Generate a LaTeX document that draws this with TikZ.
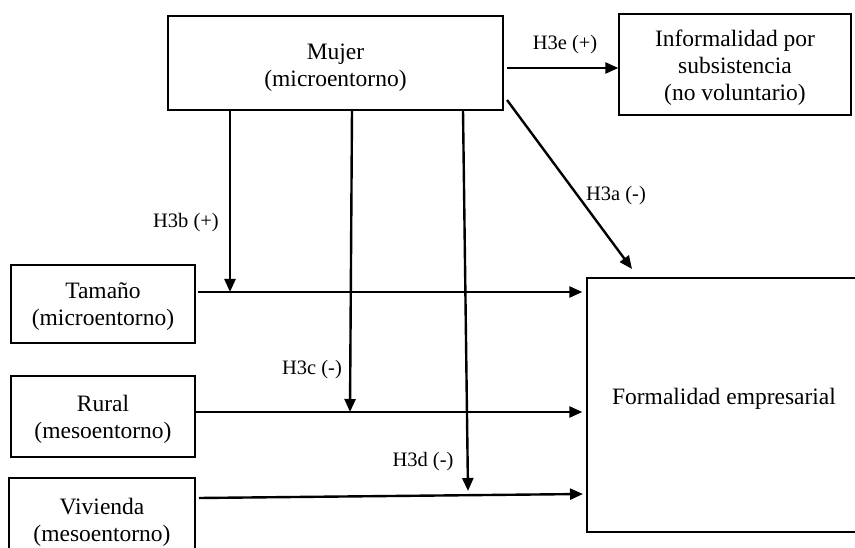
\documentclass[tikz,border=0pt]{standalone}
\usepackage{fontspec}
\setmainfont{Liberation Serif}
\usetikzlibrary{arrows.meta,calc}
\begin{document}
\begin{tikzpicture}[x=1pt,y=-1pt,
  box/.style={draw,line width=1.3pt,inner sep=0pt},
  txt/.style={align=center,inner sep=0pt,font=\fontsize{23.5}{27}\selectfont},
  arr/.style={draw,line width=2.4pt,-{Triangle[length=13pt,width=11pt]}},
  lbl/.style={font=\fontsize{20.5}{24}\selectfont,inner sep=0pt}]
\useasboundingbox (0,0) rectangle (855,548);
\clip (0,0) rectangle (855,548);

% variable boxes
\node[box,minimum width=335pt,minimum height=94pt] (mujer) at (335.5,63) {};
\node[box,minimum width=232pt,minimum height=101pt] (info) at (735,64.5) {};
\node[box,minimum width=184pt,minimum height=78pt] (tam) at (103,304) {};
\node[box,minimum width=184pt,minimum height=81pt] (rural) at (103,416.5) {};
\node[box,minimum width=186pt,minimum height=86pt] (viv) at (102,521) {};
\node[box,minimum width=283pt,minimum height=254pt] (formal) at (728.5,405) {};

% box texts
\node[txt] (mujerT) at ([yshift=-5pt]mujer.center) {Mujer\\(microentorno)};
\node[txt] (infoT) at ([yshift=-3pt]info.center) {Informalidad por\\subsistencia\\(no voluntario)};
\node[txt] (tamT) at ([yshift=-3pt]tam.center) {Tamaño\\(microentorno)};
\node[txt] (ruralT) at ([yshift=-3pt]rural.center) {Rural\\(mesoentorno)};
\node[txt] (vivT) at ([yshift=-1pt]viv.center) {Vivienda\\(mesoentorno)};
\node[txt] (formalT) at (724,399) {Formalidad empresarial};

% anchor points of the connectors
\coordinate (tamS) at (198,292);
\coordinate (rurS) at (195,412);
\coordinate (vivS) at (199,498);
\coordinate (vivE) at (583,494);
\coordinate (bS) at (230,110);
\coordinate (bE) at (230,292);
\coordinate (cS) at (352,110);
\coordinate (cE) at (350,412);
\coordinate (dS) at (463,110);
\coordinate (dE) at (468,491);
\coordinate (aS) at (507,100);
\coordinate (aE) at (632,269);
\coordinate (eS) at (507,68);

% direct effects
\draw[arr] (eS) -- (eS -| info.west);
\draw[arr] (aS) -- (aE);
\draw[arr] (tamS) -- ([xshift=-4pt]tamS -| formal.west);
\draw[arr] (rurS) -- ([xshift=-4pt]rurS -| formal.west);
\draw[arr] (vivS) -- (vivE);

% moderating effects
\draw[arr] (bS) -- (bE);
\draw[arr] (cS) -- (cE);
\draw[arr] (dS) -- (dE);

% labels
\node[lbl] (le) at (565,45) {H3e (+)};
\node[lbl] (la) at (616,196) {H3a (-)};
\node[lbl] (lb) at (186,223) {H3b (+)};
\node[lbl] (lc) at (312,370) {H3c (-)};
\node[lbl] (ld) at (423,462) {H3d (-)};
\end{tikzpicture}
\end{document}
